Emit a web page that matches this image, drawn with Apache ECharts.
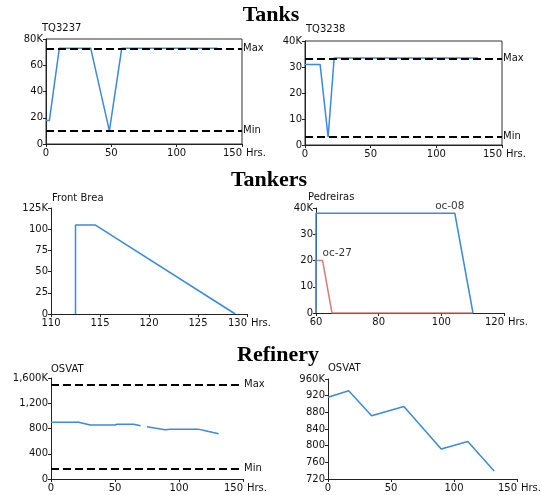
<!DOCTYPE html>
<html><head><meta charset="utf-8">
<script src="https://cdn.jsdelivr.net/npm/echarts@6/dist/echarts.min.js"></script>
<style>html,body{margin:0;padding:0;background:#fff}#c{width:542px;height:495px}</style>
</head><body><div id="c"></div>
<script>
// ---- data ----
const sectionTitles = ['Tanks', 'Tankers', 'Refinery'];
const panelNames = ['TQ3237', 'TQ3238', 'Front Brea', 'Pedreiras', 'OSVAT', 'OSVAT'];
const xLabelUnit = 'Hrs.';

// Tanks (thousands)
const tq3237 = [[0,18],[2.6,18],[10.2,73],[34.2,73],[48.5,10],[58,73],[131.3,73]];
const tq3237Limits = [72.5, 10];       // Max, Min
const tq3238 = [[0,31],[11.5,31],[17.6,3],[22.2,33.5],[131.7,33.5]];
const tq3238Limits = [33.3, 3.2];

// Tankers (thousands)
const frontBrea = [[112.5,0],[112.5,105],[114.5,105],[128.8,0]];
const oc08 = [[60,0],[60,38],[104.3,38],[110.1,0]];
const oc27 = [[60,0],[60,20],[62.1,20],[65.1,0],[110.1,0]];
const tankerLabels = ['oc-08', 'oc-27'];

// Refinery (thousands)
const osvatLeft = [[0,900],[21.6,900],[30.7,855],[50,855],[51.6,866],[64.6,866],[70,842],[72,null],[75,828],[89,780],[93,790],[115,790],[120.6,765],[131,718]];
const osvatLeftLimits = [1500, 170];
const osvatRight = [[0,916],[16.4,932],[34.6,872],[60.2,894],[89.8,792],[110.9,810],[131.8,739]];

// axis ranges: [min, max, interval]
const xRanges = [[0,150,50],[0,150,50],[110,130,5],[60,120,20],[0,150,50],[0,150,50]];
const yRanges = [[0,80,20],[0,40,10],[0,125,25],[0,40,10],[0,1600,400],[720,960,40]];

// ---- layout / style ----
const FONT = 'DejaVu Sans';
const BLUE = '#3a8ae0';
const RED = '#e07a7a';
const grids = [
  {left:46, top:39, width:196, height:105, show:true, borderColor:'#333', borderWidth:1},
  {left:305, top:41, width:197, height:104, show:true, borderColor:'#333', borderWidth:1},
  {left:51, top:208, width:196, height:106},
  {left:316, top:208, width:188, height:105},
  {left:51, top:378, width:192, height:101},
  {left:328, top:379, width:192, height:100}
];

function fmtNum(v){ return String(v).replace(/\B(?=(\d{3})+(?!\d))/g, ','); }

const xAxes = xRanges.map((r,i) => ({
  type:'value', gridIndex:i, min:r[0], max:r[1], interval:r[2],
  name: xLabelUnit, nameLocation:'end', nameGap:2,
  nameTextStyle:{fontFamily:FONT, fontSize:10, color:'#111', verticalAlign:'top', padding:[4,0,0,0]},
  axisLine:{show:true, onZero:false, lineStyle:{color:'#222', width:1}},
  axisTick:{show:true, length:3, lineStyle:{color:'#222'}},
  axisLabel:{fontFamily:FONT, fontSize:10, color:'#111', margin:4, alignMaxLabel:'right', showMaxLabel:true},
  splitLine:{show:false}
}));

const yAxes = yRanges.map((r,i) => ({
  type:'value', gridIndex:i, min:r[0], max:r[1], interval:r[2],
  axisLine:{show:true, onZero:false, lineStyle:{color:'#222', width:1}},
  axisTick:{show:true, length:3, lineStyle:{color:'#222'}},
  axisLabel:{fontFamily:FONT, fontSize:10, color:'#111', margin:3,
    formatter: v => fmtNum(v) + (v === r[1] ? 'K' : '')},
  splitLine:{show:false}
}));

function limitLines(lim){
  return {
    symbol:'none', silent:true, animation:false,
    lineStyle:{color:'#000', type:[8,4], width:2},
    label:{show:true, position:'end', distance:1, formatter:'{b}', fontFamily:FONT, fontSize:10, color:'#111'},
    data:[{yAxis:lim[0], name:'Max'},{yAxis:lim[1], name:'Min'}]
  };
}

function lineSeries(data, idx, color, extra){
  return Object.assign({
    type:'line', xAxisIndex:idx, yAxisIndex:idx, data:data, showSymbol:false,
    connectNulls:false, animation:false,
    lineStyle:{color:color, width:1.5}, itemStyle:{color:color}
  }, extra || {});
}

const ocLabelStyle = {fontFamily:FONT, fontSize:10.5, color:'#000'};
const series = [
  lineSeries(tq3237, 0, BLUE, {markLine: limitLines(tq3237Limits)}),
  lineSeries(tq3238, 1, BLUE, {markLine: limitLines(tq3238Limits)}),
  lineSeries(frontBrea, 2, BLUE),
  lineSeries(oc27, 3, RED),
  lineSeries(oc08, 3, BLUE),
  {
    type:'scatter', xAxisIndex:3, yAxisIndex:3, symbolSize:1, animation:false, silent:true,
    itemStyle:{color:'rgba(0,0,0,0)'},
    data:[
      {value: oc08[2], label:Object.assign({show:true, formatter:tankerLabels[0], position:'top', offset:[-5,4]}, ocLabelStyle)},
      {value: oc27[2], label:Object.assign({show:true, formatter:tankerLabels[1], position:'top', align:'left', offset:[0,4]}, ocLabelStyle)}
    ],
    label:ocLabelStyle
  },
  lineSeries(osvatLeft, 4, BLUE, {markLine: limitLines(osvatLeftLimits)}),
  lineSeries(osvatRight, 5, BLUE)
];

const sectionPos = [[271,15.5],[269,180],[278,355]];
const namePos = [[42,28],[306,29],[52,198],[308,197],[51,369],[328,368]];

const graphics = [];
sectionTitles.forEach((t,i) => graphics.push({
  type:'text', x:sectionPos[i][0], y:sectionPos[i][1], silent:true,
  style:{text:t, font:'bold 22px "Liberation Serif"', fill:'#000', align:'center', verticalAlign:'middle'}
}));
panelNames.forEach((t,i) => graphics.push({
  type:'text', x:namePos[i][0], y:namePos[i][1], silent:true,
  style:{text:t, font:'10px "DejaVu Sans"', fill:'#111', align:'left', verticalAlign:'middle'}
}));

const chart = echarts.init(document.getElementById('c'), null, {renderer:'canvas'});
chart.setOption({
  backgroundColor:'#fff',
  animation:false,
  grid: grids,
  xAxis: xAxes,
  yAxis: yAxes,
  series: series,
  graphic: graphics
});
</script>
</body></html>
